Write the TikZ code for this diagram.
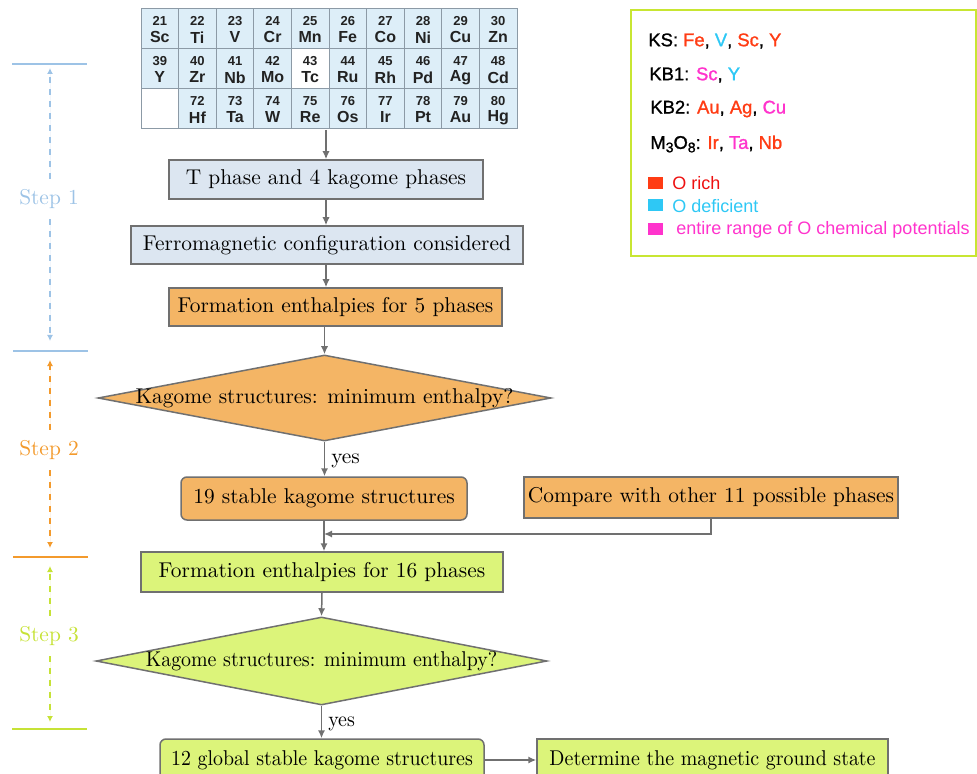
\documentclass[tikz,border=0pt]{standalone}
\usepackage{fontspec}
\usepackage{graphicx}
\usetikzlibrary{shapes.geometric,arrows.meta,fit}
\newfontfamily\sansf{Liberation Sans}
\newfontfamily\legbf[FakeBold=1.2]{Liberation Sans}
\definecolor{bordergray}{HTML}{707070}
\definecolor{gridgray}{HTML}{8C9AA6}
\definecolor{cellblue}{HTML}{DDEEF8}
\definecolor{tabtext}{HTML}{222222}
\definecolor{boxblue}{HTML}{DCE6F1}
\definecolor{boxorange}{HTML}{F4B565}
\definecolor{boxlime}{HTML}{DCF47A}
\definecolor{stepblue}{HTML}{9DC3E6}
\definecolor{steporange}{HTML}{F39A2C}
\definecolor{steplime}{HTML}{C6E236}
\definecolor{legborder}{HTML}{C8E632}
\definecolor{ored}{HTML}{FF3C14}
\definecolor{orichtext}{HTML}{EE1111}
\definecolor{ocyan}{HTML}{2EC8F5}
\definecolor{omag}{HTML}{FF33CC}
\begin{document}
\begin{tikzpicture}[x=0.5pt,y=-0.5pt,
  font=\fontsize{10.7}{13}\selectfont,
  pxw/.style={minimum width=#1*0.5pt},
  pxh/.style={minimum height=#1*0.5pt},
  box/.style={draw=bordergray, line width=0.75pt, inner sep=0pt, align=center},
  diam/.style={box, diamond},
  flow/.style={draw=bordergray, line width=0.75pt, -{Latex[length=4pt,width=3.6pt]}},
  cell/.style={draw=gridgray, line width=0.5pt, minimum width=18.8pt, minimum height=20pt, inner sep=0pt},
  numf/.style={font=\sansf\bfseries\fontsize{6.5}{7}\selectfont, text=tabtext, inner sep=0pt},
  symf/.style={font=\sansf\bfseries\fontsize{8}{9}\selectfont, text=tabtext, inner sep=0pt},
  leg/.style={font=\sansf\fontsize{9}{10}\selectfont, anchor=west, inner sep=0pt},
  legh/.style={font=\legbf\fontsize{9.2}{10}\selectfont, anchor=west, inner sep=0pt},
  steplab/.style={inner sep=5pt},
  stepline/.style={line width=1pt},
  stepdash/.style={dashed, line width=0.6pt, -{Latex[length=3pt,width=3pt]}}
]
\useasboundingbox (0,0) rectangle (977,774);

% ---------- periodic table ----------
\foreach \r/\c/\n/\s/\col in {
  0/0/21/Sc/cellblue,0/1/22/Ti/cellblue,0/2/23/V/cellblue,0/3/24/Cr/cellblue,0/4/25/Mn/cellblue,
  0/5/26/Fe/cellblue,0/6/27/Co/cellblue,0/7/28/Ni/cellblue,0/8/29/Cu/cellblue,0/9/30/Zn/cellblue,
  1/0/39/Y/cellblue,1/1/40/Zr/cellblue,1/2/41/Nb/cellblue,1/3/42/Mo/cellblue,1/4/43/Tc/white,
  1/5/44/Ru/cellblue,1/6/45/Rh/cellblue,1/7/46/Pd/cellblue,1/8/47/Ag/cellblue,1/9/48/Cd/cellblue,
  2/1/72/Hf/cellblue,2/2/73/Ta/cellblue,2/3/74/W/cellblue,2/4/75/Re/cellblue,
  2/5/76/Os/cellblue,2/6/77/Ir/cellblue,2/7/78/Pt/cellblue,2/8/79/Au/cellblue,2/9/80/Hg/cellblue}
{
  \node[cell, fill=\col] (c\n) at ({141+37.6*(\c+0.5)},{9+40*(\r+0.5)}) {};
  \node[numf] (n\n) at ([yshift=-6.2pt]c\n.north) {\n};
  \node[symf] (s\n) at ([yshift=-14.4pt]c\n.north) {\s};
}
\node[cell, fill=white] (c0) at ({141+37.6*0.5},{9+40*2.5}) {};
\node[fit=(c21)(c80)(c0), inner sep=0pt] (ptable) {};

% ---------- flow boxes ----------
\node[box, fill=boxblue, pxw=314, pxh=39] (b1) at (326,179.5) {T phase and 4 kagome phases};
\node[box, fill=boxblue, pxw=392, pxh=38] (b2) at (327,245) {Ferromagnetic configuration considered};
\node[box, fill=boxorange, pxw=333, pxh=38] (b3) at (335.5,307) {Formation enthalpies for 5 phases};
\node[diam, fill=boxorange, pxw=453, pxh=86] (d1) at (324.5,398) {};
\node[inner sep=0pt] (d1t) at (d1) {Kagome structures: minimum enthalpy?};
\node[box, fill=boxorange, pxw=286, pxh=43, rounded corners=3pt] (b4) at (324,498.5) {19 stable kagome structures};
\node[box, fill=boxorange, pxw=374, pxh=41] (b5) at (711,497.5) {Compare with other 11 possible phases};
\node[box, fill=boxlime, pxw=362, pxh=40] (b6) at (322,572) {Formation enthalpies for 16 phases};
\node[diam, fill=boxlime, pxw=451, pxh=88] (d2) at (321.5,661) {};
\node[inner sep=0pt] (d2t) at (d2) {\scalebox{0.93}[1]{Kagome structures: minimum enthalpy?}};
\node[box, fill=boxlime, pxw=324, pxh=42, rounded corners=3pt] (b7) at (322,760) {\scalebox{0.93}[1]{12 global stable kagome structures}};
\node[box, fill=boxlime, pxw=351, pxh=42] (b8) at (712.5,760) {\scalebox{0.93}[1]{Determine the magnetic ground state}};

\coordinate (j) at (324,534);

% ---------- flow arrows ----------
\draw[flow] (b1.north |- ptable.south) -- (b1.north);
\draw[flow] (b1.south) -- (b1.south |- b2.north);
\draw[flow] (b1.south |- b2.south) -- (b1.south |- b3.north);
\draw[flow] (d1.north |- b3.south) -- (d1.north);
\draw[flow] (d1.south) -- node[right, inner sep=3pt, yshift=-1pt] (y1) {yes} (d1.south |- b4.north);
\draw[flow] (b4.south) -- (b4.south |- b6.north);
\draw[flow] (b5.south) |- (j);
\draw[flow] (b6.south) -- (d2.north);
\draw[flow] (d2.south) -- node[right, inner sep=3pt, yshift=-1pt] (y2) {\scalebox{0.93}[1]{yes}} (d2.south |- b7.north);
\draw[flow] (b7.east) -- (b8.west);

% ---------- legend ----------
\node[draw=legborder, line width=1pt, pxw=345, pxh=246, inner sep=0pt] (legend) at (803,133) {};
\node[legh] (ks) at (648,41) {KS: \textcolor{ored}{Fe}, \textcolor{ocyan}{V}, \textcolor{ored}{Sc}, \textcolor{ored}{Y}};
\node[legh] (kb1) at (649,75) {KB1: \textcolor{omag}{Sc}, \textcolor{ocyan}{Y}};
\node[legh] (kb2) at (650,109) {KB2: \textcolor{ored}{Au}, \textcolor{ored}{Ag}, \textcolor{omag}{Cu}};
\node[legh] (m38) at (650,144) {M\raisebox{-0.35ex}{\fontsize{7}{8}\selectfont 3}O\raisebox{-0.35ex}{\fontsize{7}{8}\selectfont 8}: \textcolor{ored}{Ir}, \textcolor{omag}{Ta}, \textcolor{ored}{Nb}};
\node[fill=ored, minimum width=7.5pt, minimum height=6pt, inner sep=0pt] (sq1) at (655,183) {};
\node[fill=ocyan, minimum width=7.5pt, minimum height=6pt, inner sep=0pt] (sq2) at (655,205) {};
\node[fill=omag, minimum width=7.5pt, minimum height=6pt, inner sep=0pt] (sq3) at (655,229) {};
\node[leg, text=orichtext] (l1) at (672,183) {O rich};
\node[leg, text=ocyan] (l2) at (672,206) {O deficient};
\node[leg, text=omag] (l3) at (676,230) {entire range of O chemical potentials};

% ---------- steps ----------
\draw[stepline, draw=stepblue] (12,64) -- (87,64);
\draw[stepline, draw=stepblue] (13,351) -- (88,351);
\draw[stepline, draw=steporange] (13,557) -- (88,557);
\draw[stepline, draw=steplime] (12,729) -- (87,729);
\node[steplab, text=stepblue] (st1) at (49,199) {Step 1};
\node[steplab, text=steporange] (st2) at (49,450) {Step 2};
\node[steplab, text=steplime] (st3) at (49,636) {Step 3};
\coordinate (t1a) at (50,68);  \coordinate (t1b) at (50,341);
\coordinate (t2a) at (50,360); \coordinate (t2b) at (50,548);
\coordinate (t3a) at (50,566); \coordinate (t3b) at (50,722);
\draw[stepdash, draw=stepblue, fill=stepblue] (t1a |- st1.north) -- (t1a);
\draw[stepdash, draw=stepblue, fill=stepblue] (t1b |- st1.south) -- (t1b);
\draw[stepdash, draw=steporange, fill=steporange] (t2a |- st2.north) -- (t2a);
\draw[stepdash, draw=steporange, fill=steporange] (t2b |- st2.south) -- (t2b);
\draw[stepdash, draw=steplime, fill=steplime] (t3a |- st3.north) -- (t3a);
\draw[stepdash, draw=steplime, fill=steplime] (t3b |- st3.south) -- (t3b);
\end{tikzpicture}
\end{document}
